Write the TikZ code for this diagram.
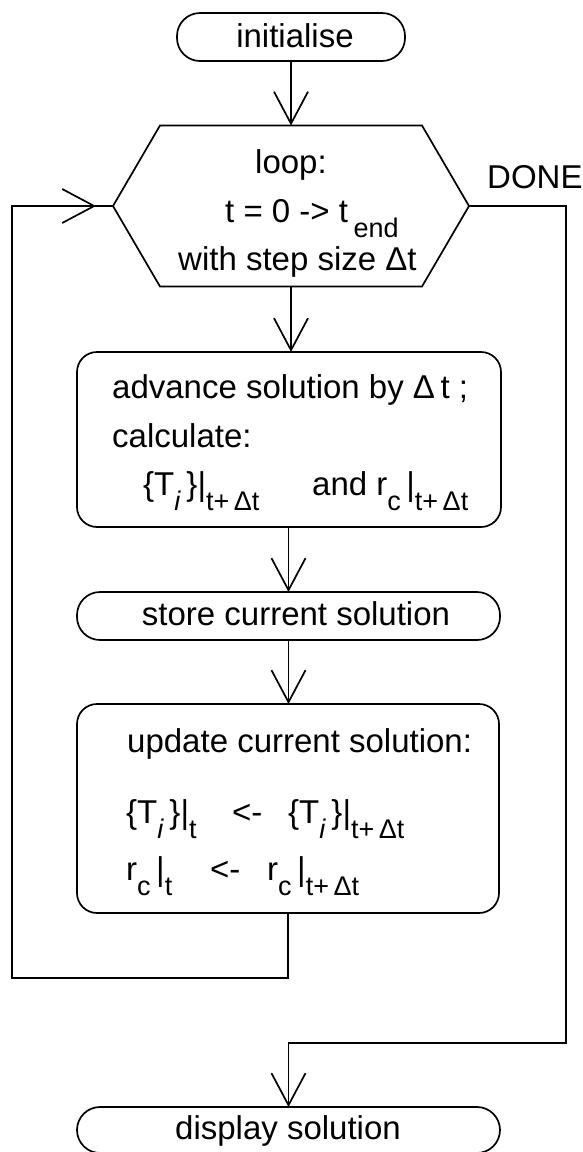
\documentclass[tikz,border=0pt]{standalone}
\usepackage{fontspec}
\setmainfont{Liberation Sans}
\usetikzlibrary{arrows.meta}
\newcommand{\lo}[1]{\raisebox{-15pt}{\fontsize{27}{27}\selectfont #1}}
\newcommand{\Tset}{\{T\lo{\textit{i}}\,\}}
\begin{document}
\begin{tikzpicture}[x=1pt,y=-1pt,
  ln/.style={line width=1.7pt},
  shp/.style={draw, ln, inner sep=0pt, outer sep=0pt},
  term/.style={shp, rounded corners=23pt, minimum height=48pt},
  procbox/.style={shp, rounded corners=20pt},
  hexbox/.style={inner sep=0pt, outer sep=0pt, minimum width=356pt, minimum height=161pt},
  txt/.style={font=\fontsize{33}{39}\selectfont, inner sep=0pt, anchor=base west},
  ctxt/.style={txt, anchor=base},
  flow/.style={ln, -{Straight Barb[length=32pt, width=34pt]}}
]
\useasboundingbox (0,0) rectangle (582,1152);

% shapes
\node[term, minimum width=228pt] (init) at (291,37) {};
\node[hexbox] (hex) at (291,206) {};
\draw[ln] (hex.west) -- ([xshift=47pt]hex.north west) -- ([xshift=-47pt]hex.north east)
  -- (hex.east) -- ([xshift=-47pt]hex.south east) -- ([xshift=47pt]hex.south west) -- cycle;
\node[procbox, minimum width=424pt, minimum height=175pt] (adv) at (289,439.5) {};
\node[term, minimum width=423pt] (store) at (288.5,616) {};
\node[procbox, minimum width=422pt, minimum height=209pt] (upd) at (288,808.5) {};
\node[term, minimum width=423pt, minimum height=46pt] (disp) at (288.5,1130) {};

% texts
\node[ctxt] (tinit) at (295,47) {initialise};
\node[ctxt] (tloop) at (291,173) {loop:};
\node[txt] (trange) at (225,222) {t = 0 -> t\,\lo{end}};
\node[txt] (tstep) at (178,270) {with step size  Δt};
\node[txt] (tdone) at (487,188) {DONE};

\node[txt] (tadv1) at (112,398) {advance solution by Δ\,t ;};
\node[txt] (tadv2) at (112,447) {calculate:};
\node[txt] (tadv3) at (143,495) {\Tset|\lo{t+\,Δt}};
\node[txt] (tadv4) at (312,495) {and r\lo{c}\,|\lo{t+\,Δt}};

\node[ctxt] (tstore) at (296,625) {store current solution};

\node[txt] (tupd1) at (127,752) {update current solution:};
\node[txt] (tupd2a) at (126,823) {\Tset|\lo{t}};
\node[txt] (tupd2b) at (232,823) {<-};
\node[txt] (tupd2c) at (288,823) {\Tset|\lo{t+\,Δt}};
\node[txt] (tupd3a) at (126,880) {r\lo{c}\,|\lo{t}};
\node[txt] (tupd3b) at (210,880) {<-};
\node[txt] (tupd3c) at (267,880) {r\lo{c}\,|\lo{t+\,Δt}};

\node[ctxt] (tdisp) at (288,1139) {display solution};

% connectors
\coordinate (lb) at (12,978);
\coordinate (lt) at (12,206);
\coordinate (dr) at (566,206);
\coordinate (db) at (566,1043);

\draw[flow] (init) -- (hex);
\draw[flow] (hex.south) -- (adv.north -| hex.south);
\draw[flow] (adv.south -| store.north) -- (store.north);
\draw[flow] (store.south) -- (upd.north -| store.south);
\draw[ln] (upd.south) |- (lb) -- (lt) -- (hex.west);
\draw[flow, shorten >=17pt] (lt) -- (hex.west);
\draw[flow] (hex.east) -- (dr) -- (db) -| (disp.north);
\end{tikzpicture}
\end{document}
